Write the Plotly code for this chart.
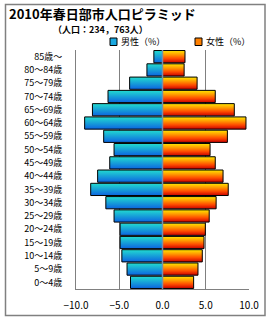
import plotly.graph_objects as go

# ---- data (bottom to top) ----
ages = ["0～4歳", "5～9歳", "10～14歳", "15～19歳", "20～24歳", "25～29歳",
        "30～34歳", "35～39歳", "40～44歳", "45～49歳", "50～54歳", "55～59歳",
        "60～64歳", "65～69歳", "70～74歳", "75～79歳", "80～84歳", "85歳～"]
male = [3.7, 4.1, 4.7, 4.9, 4.9, 5.6, 6.55, 8.3, 7.5, 6.1, 5.6, 6.8,
        9.0, 8.1, 6.3, 3.8, 1.8, 1.0]
female = [3.6, 4.1, 4.6, 4.8, 4.95, 5.4, 6.2, 7.6, 7.0, 6.1, 5.5, 7.5,
          9.65, 8.3, 6.1, 4.0, 2.5, 2.6]
xticks = [-10, -5, 0, 5, 10]

W, H = 270, 320
L, R, T, B = 76, 249, 50, 289
FONT = "Noto Sans CJK JP"


def px(x):
    return (x - L) / (R - L)


def py(y):
    return (B - y) / (B - T)


male_cs = [[0, "#0C64E0"], [1, "#22DCD0"]]
female_cs = [[0, "#C80000"], [0.35, "#FF4C00"], [0.65, "#FF9800"], [1, "#FFE800"]]

fig = go.Figure()
h = 0.92
for i, (m, f) in enumerate(zip(male, female)):
    y0, y1 = i - h / 2, i + h / 2
    fig.add_trace(go.Scatter(
        x=[-m, 0, 0, -m, -m], y=[y0, y0, y1, y1, y0],
        fill="toself", mode="lines", line=dict(color="black", width=1),
        fillgradient=dict(type="vertical", colorscale=male_cs),
        hoverinfo="skip", showlegend=False))
    fig.add_trace(go.Scatter(
        x=[0, f, f, 0, 0], y=[y0, y0, y1, y1, y0],
        fill="toself", mode="lines", line=dict(color="black", width=1),
        fillgradient=dict(type="vertical", colorscale=female_cs),
        hoverinfo="skip", showlegend=False))

shapes = [
    # zero line above bars
    dict(type="line", xref="x", yref="paper", x0=0, x1=0, y0=0, y1=1,
         line=dict(color="#7890A8", width=1.5), layer="above"),
    # outer frame
    dict(type="rect", xref="paper", yref="paper",
         x0=px(5.5), x1=px(265), y0=py(4.5), y1=py(315.5),
         line=dict(color="#808080", width=1.5), layer="below"),
    # legend swatches
    dict(type="rect", xref="paper", yref="paper",
         x0=px(110), x1=px(117), y0=py(45.5), y1=py(38),
         line=dict(color="black", width=1), fillcolor="#1AA8E0"),
    dict(type="rect", xref="paper", yref="paper",
         x0=px(195), x1=px(202), y0=py(45.5), y1=py(38),
         line=dict(color="black", width=1), fillcolor="#FF8000"),
]

annotations = [
    dict(text="<b>2010年春日部市人口ピラミッド</b>", xref="paper", yref="paper",
         x=px(7), y=py(13.5), xanchor="left", yanchor="middle", showarrow=False,
         font=dict(family=FONT, size=13, color="black")),
    dict(text="<b>（人口：234，763人）</b>", xref="paper", yref="paper",
         x=px(100), y=py(29), xanchor="center", yanchor="middle", showarrow=False,
         font=dict(family=FONT, size=9, color="black")),
    dict(text="男性（%）", xref="paper", yref="paper",
         x=px(119), y=py(42), xanchor="left", yanchor="middle", showarrow=False,
         font=dict(family=FONT, size=9, color="black")),
    dict(text="女性（%）", xref="paper", yref="paper",
         x=px(204), y=py(42), xanchor="left", yanchor="middle", showarrow=False,
         font=dict(family=FONT, size=9, color="black")),
]

fig.update_layout(
    width=W, height=H,
    margin=dict(l=L, r=W - R, t=T, b=H - B, pad=0, autoexpand=False),
    paper_bgcolor="white", plot_bgcolor="white",
    font=dict(family=FONT, size=9, color="black"),
    shapes=shapes, annotations=annotations, showlegend=False,
    xaxis=dict(range=[-10, 10], tickvals=xticks, tickformat=".1f",
               showgrid=True, gridcolor="#808080", gridwidth=1,
               zeroline=False, showline=True, linecolor="#808080", linewidth=1,
               ticks="", ticklabelstandoff=7, fixedrange=True, automargin=False,
               tickfont=dict(family=FONT, size=10, color="black")),
    yaxis=dict(range=[-0.5, 17.5], tickvals=list(range(len(ages))), ticktext=ages,
               showgrid=False, zeroline=False, showline=True,
               linecolor="#808080", linewidth=1, ticks="",
               ticklabelstandoff=11, fixedrange=True, automargin=False,
               tickfont=dict(family=FONT, size=9, color="black")),
)

fig.write_html("out.html")
